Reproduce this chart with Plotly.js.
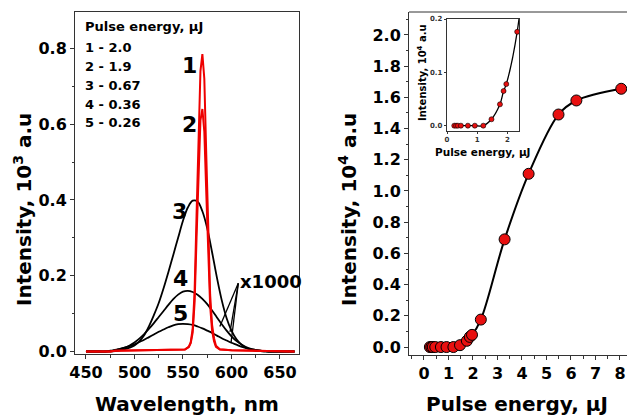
<!DOCTYPE html>
<html><head><meta charset="utf-8">
<script src="https://cdn.plot.ly/plotly-3.0.1.min.js"></script>
<style>html,body{margin:0;padding:0;background:#fff}#c{width:627px;height:416px}</style>
</head><body><div id="c"></div>
<script>
// ---- Left panel: spectra ----
const wavelength = [450,455,460,465,470,475,480,485,490,495,500,505,510,515,520,525,530,535,540,545,550,555,560,565,570,575,580,585,590,595,600,605,610,615,620,625,630,635,640,645,650,655,660,665];
const spec3 = [0,0,0,0,0,0,0.001,0.003,0.006,0.01,0.016,0.027,0.043,0.067,0.096,0.128,0.167,0.21,0.255,0.3,0.345,0.38,0.398,0.396,0.37,0.325,0.262,0.195,0.135,0.088,0.055,0.033,0.019,0.01,0.005,0.002,0.001,0,0,0,0,0,0,0];
const spec4 = [0,0,0,0,0,0.001,0.003,0.006,0.01,0.016,0.024,0.034,0.046,0.06,0.075,0.091,0.107,0.123,0.138,0.15,0.158,0.16,0.157,0.15,0.139,0.125,0.108,0.09,0.072,0.055,0.04,0.028,0.019,0.012,0.007,0.004,0.002,0.001,0,0,0,0,0,0];
const spec5 = [0,0,0,0,0,0.002,0.004,0.007,0.01,0.014,0.019,0.025,0.031,0.038,0.045,0.052,0.058,0.064,0.069,0.072,0.073,0.072,0.07,0.066,0.061,0.055,0.049,0.042,0.035,0.029,0.023,0.018,0.013,0.009,0.006,0.004,0.002,0.001,0,0,0,0,0,0];
const redWavelength = [450,475,480,500,520,540,552,556,558,560,562,564,566,568,570,572,574,576,578,580,582,584,588,600,620,640,665];
const spec1 = [0,0,0.002,0.003,0.003,0.004,0.005,0.012,0.025,0.06,0.16,0.36,0.58,0.74,0.785,0.72,0.52,0.3,0.15,0.07,0.035,0.015,0.006,0.003,0.002,0,0];
const spec2 = [0,0,0.002,0.003,0.003,0.004,0.005,0.012,0.022,0.05,0.13,0.3,0.48,0.61,0.64,0.58,0.42,0.24,0.12,0.055,0.027,0.012,0.005,0.003,0.002,0,0];
const legendTitle = 'Pulse energy, \u03bcJ';
const legendLines = ['1 - 2.0','2 - 1.9','3 - 0.67','4 - 0.36','5 - 0.26'];
const curveLabels = ['1','2','3','4','5'];

// ---- Right panel: intensity vs pulse energy ----
const pulseEnergy = [0.24,0.30,0.36,0.46,0.69,0.92,1.20,1.47,1.75,1.87,1.96,2.32,3.29,4.27,5.49,6.22,8.05];
const intensity = [0,0,0,0,0,0,0,0.012,0.04,0.065,0.078,0.176,0.69,1.11,1.49,1.58,1.655];

const W = 627, H = 416;
const PX = x => x / W, PY = y => 1 - y / H;
const FONT = 'DejaVu Sans, Liberation Sans, Arial, sans-serif';
const AX = '#333';

const traces = [
  {x: wavelength, y: spec5, mode:'lines', line:{color:'#000', width:1.8, shape:'spline'}, xaxis:'x', yaxis:'y'},
  {x: wavelength, y: spec4, mode:'lines', line:{color:'#000', width:1.8, shape:'spline'}, xaxis:'x', yaxis:'y'},
  {x: wavelength, y: spec3, mode:'lines', line:{color:'#000', width:1.8, shape:'spline'}, xaxis:'x', yaxis:'y'},
  {x: redWavelength, y: spec2, mode:'lines', line:{color:'#ee0000', width:2}, xaxis:'x', yaxis:'y'},
  {x: redWavelength, y: spec1, mode:'lines', line:{color:'#ee0000', width:2}, xaxis:'x', yaxis:'y'},
  {x: pulseEnergy, y: intensity, mode:'lines+markers', line:{color:'#000', width:2, shape:'spline', smoothing:1},
   marker:{size:11, color:'#e81010', line:{color:'#000', width:1}}, xaxis:'x2', yaxis:'y2'},
  {x: pulseEnergy, y: intensity, mode:'lines+markers', line:{color:'#000', width:1.3, shape:'spline', smoothing:1},
   marker:{size:5, color:'#e81010', line:{color:'#000', width:0.6}}, xaxis:'x3', yaxis:'y3'}
];

function axis(o){
  return Object.assign({showline:true, linecolor:AX, linewidth:1, showgrid:false, zeroline:false,
    ticks:'outside', ticklen:4, tickwidth:1, tickcolor:AX,
    tickfont:{family:FONT, size:16, color:'#000', weight:700}}, o);
}

const anns = [];
function txt(text, x, y, size, opts){
  anns.push(Object.assign({text, x:PX(x), y:PY(y), xref:'paper', yref:'paper', showarrow:false,
    font:{family:FONT, size, color:'#000', weight:700}, xanchor:'center', yanchor:'middle'}, opts||{}));
}
// left legend block
txt(legendTitle, 83, 27, 13, {xanchor:'left'});
const legendY = [47,66,85,104,123];
legendLines.forEach((t,i)=>txt(t, 83, legendY[i], 13, {xanchor:'left'}));
// curve numbers
const labelPos = [[189,65],[189,125],[179,211],[180,278],[180,313]];
curveLabels.forEach((t,i)=>txt(t, labelPos[i][0], labelPos[i][1], 22));
txt('x1000', 238, 281, 18, {xanchor:'left'});
// axis titles
txt('Wavelength, nm', 187, 404, 20);
txt('Intensity, 10<sup>3</sup> a.u', 23, 210, 20, {textangle:-90});
txt('Pulse energy, \u03bcJ', 517, 404, 20);
txt('Intensity, 10<sup>4</sup> a.u', 348, 210, 20, {textangle:-90});
// inset titles
txt('Intensity, 10<sup>4</sup> a.u', 422, 73, 10, {textangle:-90});
txt('Pulse energy, \u03bcJ', 483, 152, 10.5);

// x1000 leader lines (left axes units)
const leaderFrom = [607, 0.18];
const leaderTo = [[588, 0.066],[598.5, 0.052],[599.5, 0.022]];
const shapes = leaderTo.map(p=>({type:'line', xref:'x', yref:'y', x0:leaderFrom[0], y0:leaderFrom[1], x1:p[0], y1:p[1], line:{color:'#000', width:1.3}}));
// right panel top frame line
shapes.push({type:'line', xref:'paper', yref:'paper', x0:PX(409), x1:1, y0:PY(12), y1:PY(12), line:{color:AX, width:1}});

const layout = {
  width:W, height:H, margin:{l:0,r:0,t:0,b:0}, paper_bgcolor:'#fff', plot_bgcolor:'rgba(0,0,0,0)',
  showlegend:false, font:{family:FONT, color:'#000'},
  xaxis: axis({domain:[PX(75), PX(299)], range:[438.7, 669.6], tick0:0, dtick:50, mirror:true, anchor:'y',
    minor:{dtick:25, ticks:'outside', ticklen:2.5, tickcolor:AX}}),
  yaxis: axis({domain:[PY(354), PY(12)], range:[-0.0066, 0.896], dtick:0.2, tick0:0, tickformat:'.1f', mirror:true, anchor:'x',
    minor:{dtick:0.1, ticks:'outside', ticklen:2.5, tickcolor:AX}}),
  xaxis2: axis({domain:[PX(409), 1], range:[-0.612, 8.286], dtick:1, tick0:0, anchor:'y2',
    minor:{dtick:0.5, ticks:'outside', ticklen:2.5, tickcolor:AX}}),
  yaxis2: axis({domain:[PY(355), PY(12)], range:[-0.051, 2.147], dtick:0.2, tick0:0, tickformat:'.1f', anchor:'x2',
    minor:{dtick:0.1, ticks:'outside', ticklen:2.5, tickcolor:AX}}),
  xaxis3: axis({domain:[PX(446.7), PX(519)], range:[-0.01, 2.38], dtick:1, tick0:0, anchor:'y3', mirror:true, ticklen:2,
    tickfont:{family:FONT, size:7, color:'#333', weight:700}}),
  yaxis3: axis({domain:[PY(131), PY(19)], range:[-0.01, 0.2], dtick:0.1, tick0:0, tickformat:'.1f', anchor:'x3', mirror:true, ticklen:2,
    tickfont:{family:FONT, size:7, color:'#333', weight:700}}),
  annotations: anns, shapes: shapes
};
Plotly.newPlot('c', traces, layout, {staticPlot:true, displayModeBar:false});
</script>
</body></html>
